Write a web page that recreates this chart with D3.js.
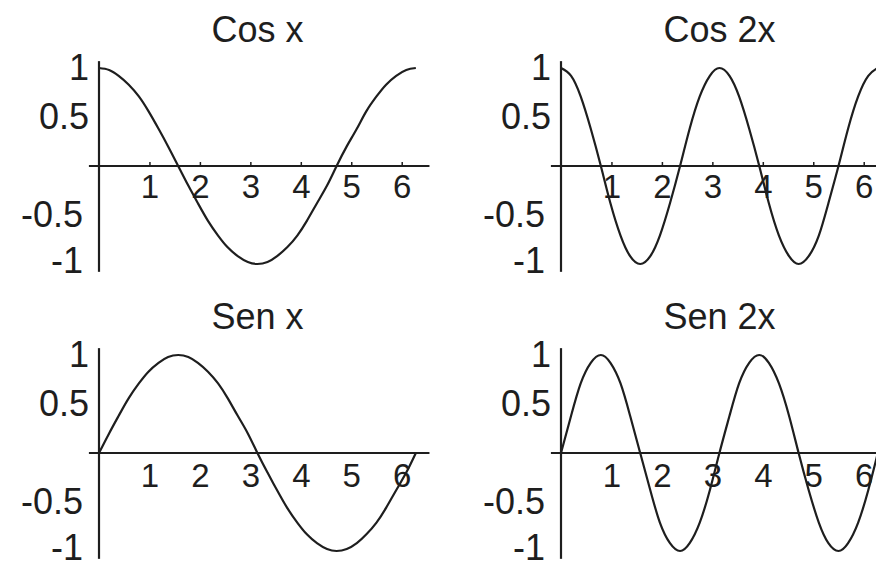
<!DOCTYPE html>
<html lang="es">
<head>
  <meta charset="UTF-8">
  <title>Cos x, Cos 2x, Sen x, Sen 2x</title>
  <script src="https://d3js.org/d3.v7.min.js"></script>
  <style>
    body { margin: 0; background: #fff; }
    svg { display: block; font-family: "Liberation Sans", Arial, sans-serif; }
    .axis text { fill: #1e1e1e; }
    .title { fill: #1e1e1e; font-size: 36px; }
  </style>
</head>
<body>
  <svg width="876" height="565"></svg>

  <script>
    // sample points (x in radians)
    const xs = [0, 0.20, 0.39, 0.59, 0.79, 0.98, 1.18, 1.37, 1.57, 1.77, 1.96, 2.16, 2.36, 2.55, 2.75, 2.95,
      3.14, 3.34, 3.53, 3.73, 3.93, 4.12, 4.32, 4.52, 4.71, 4.91, 5.11, 5.30, 5.50, 5.69, 5.89, 6.09, 6.28];

    const cosX = [1, 0.98, 0.92, 0.83, 0.71, 0.56, 0.38, 0.20, 0, -0.20, -0.38, -0.56, -0.71, -0.83, -0.92, -0.98,
      -1, -0.98, -0.92, -0.83, -0.71, -0.56, -0.38, -0.20, 0, 0.20, 0.38, 0.56, 0.71, 0.83, 0.92, 0.98, 1];
    const cos2X = [1, 0.92, 0.71, 0.38, 0, -0.38, -0.71, -0.92, -1, -0.92, -0.71, -0.38, 0, 0.38, 0.71, 0.92,
      1, 0.92, 0.71, 0.38, 0, -0.38, -0.71, -0.92, -1, -0.92, -0.71, -0.38, 0, 0.38, 0.71, 0.92, 1];
    const senX = [0, 0.20, 0.38, 0.56, 0.71, 0.83, 0.92, 0.98, 1, 0.98, 0.92, 0.83, 0.71, 0.56, 0.38, 0.20,
      0, -0.20, -0.38, -0.56, -0.71, -0.83, -0.92, -0.98, -1, -0.98, -0.92, -0.83, -0.71, -0.56, -0.38, -0.20, 0];
    const sen2X = [0, 0.38, 0.71, 0.92, 1, 0.92, 0.71, 0.38, 0, -0.38, -0.71, -0.92, -1, -0.92, -0.71, -0.38,
      0, 0.38, 0.71, 0.92, 1, 0.92, 0.71, 0.38, 0, -0.38, -0.71, -0.92, -1, -0.92, -0.71, -0.38, 0];

    const titles = ["Cos x", "Cos 2x", "Sen x", "Sen 2x"];
    const xTicks = [1, 2, 3, 4, 5, 6];
    const yTicks = [1, 0.5, -0.5, -1];

    const series = [cosX, cos2X, senX, sen2X];
    // panel origins (where x=0, y=0 sits)
    const origins = [[99, 166], [561, 166], [99, 453], [561, 453]];
    const showTicks = [true, true, false, false];

    const svg = d3.select("svg");
    const ink = "#1e1e1e";

    const x = d3.scaleLinear().domain([0, 2 * Math.PI]).range([0, 317]);
    const y = d3.scaleLinear().domain([-1, 1]).range([98, -98]);

    const line = d3.line()
      .x((d, i) => x(xs[i]))
      .y(d => y(d))
      .curve(d3.curveNatural);

    series.forEach((vals, p) => {
      const g = svg.append("g")
        .attr("transform", `translate(${origins[p][0]},${origins[p][1]})`);

      // x axis
      g.append("line")
        .attr("x1", x(-0.2)).attr("x2", x(6.55))
        .attr("y1", 0).attr("y2", 0)
        .attr("stroke", ink).attr("stroke-width", 2.2);

      const xa = g.append("g").attr("class", "axis")
        .call(d3.axisBottom(x).tickValues(xTicks)
          .tickSizeInner(showTicks[p] ? -4 : 0).tickSizeOuter(0).tickPadding(p < 2 ? 9 : 11)
          .tickFormat(d3.format("d")));
      xa.select(".domain").remove();
      xa.selectAll("line").attr("stroke", ink).attr("stroke-width", 1.5);
      xa.selectAll("text").attr("font-size", 33).attr("font-family", null);

      // y axis
      g.append("line")
        .attr("x1", 0).attr("x2", 0)
        .attr("y1", y(1.07)).attr("y2", y(-1.08))
        .attr("stroke", ink).attr("stroke-width", 2.2);

      const ya = g.append("g").attr("class", "axis")
        .call(d3.axisLeft(y).tickValues(yTicks)
          .tickSize(0).tickPadding(10)
          .tickFormat(d => d));
      ya.select(".domain").remove();
      ya.selectAll("text").attr("font-size", 36).attr("font-family", null)
        .attr("dx", d => d < 0 ? -6 : 0)
        .attr("dy", d => d === -1 ? "0.24em" : "0.32em");

      // curve
      g.append("path")
        .datum(vals)
        .attr("d", line)
        .attr("fill", "none")
        .attr("stroke", ink)
        .attr("stroke-width", 2.2);

      // title
      g.append("text")
        .attr("class", "title")
        .attr("x", x(Math.PI))
        .attr("y", y(1) - 26)
        .attr("text-anchor", "middle")
        .text(titles[p]);
    });
  </script>
</body>
</html>
